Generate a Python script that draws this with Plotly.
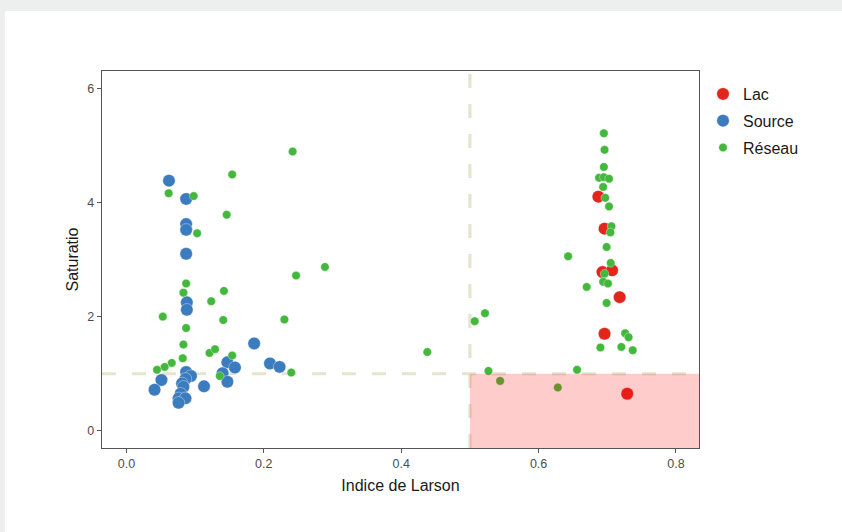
import plotly.graph_objects as go

# ---- data ----
lac_x = [0.687, 0.696, 0.693, 0.707, 0.718, 0.696, 0.729]
lac_y = [4.10, 3.54, 2.78, 2.81, 2.34, 1.70, 0.65]

source_x = [0.062, 0.087, 0.087, 0.087, 0.087, 0.088, 0.088, 0.186, 0.209, 0.223,
            0.147, 0.158, 0.140, 0.147, 0.113, 0.087, 0.094, 0.086, 0.081, 0.083,
            0.051, 0.041, 0.079, 0.076, 0.086, 0.076]
source_y = [4.38, 4.06, 3.62, 3.52, 3.10, 2.25, 2.12, 1.53, 1.18, 1.12,
            1.20, 1.11, 1.01, 0.86, 0.78, 1.03, 0.96, 0.91, 0.83, 0.77,
            0.89, 0.72, 0.65, 0.57, 0.57, 0.49]

reseau_x = [0.0615, 0.098, 0.154, 0.146, 0.103, 0.087, 0.083, 0.142, 0.1235, 0.053,
            0.141, 0.087, 0.083, 0.082, 0.121, 0.129, 0.154, 0.066, 0.0557, 0.0446,
            0.136, 0.242, 0.289, 0.247, 0.230, 0.240, 0.438,
            0.507, 0.522, 0.527, 0.544, 0.628, 0.656, 0.670, 0.643,
            0.695, 0.696, 0.695, 0.688, 0.695, 0.7025, 0.694, 0.697, 0.7025, 0.706,
            0.7045, 0.699, 0.705, 0.696, 0.694, 0.701, 0.699, 0.726, 0.731, 0.690,
            0.7205, 0.737]
reseau_y = [4.16, 4.11, 4.49, 3.785, 3.46, 2.58, 2.42, 2.45, 2.27, 2.00,
            1.94, 1.80, 1.51, 1.27, 1.365, 1.43, 1.32, 1.19, 1.12, 1.07,
            0.96, 4.89, 2.87, 2.72, 1.95, 1.02, 1.38,
            1.92, 2.06, 1.05, 0.875, 0.76, 1.07, 2.52, 3.056,
            5.21, 4.92, 4.62, 4.43, 4.44, 4.415, 4.27, 4.08, 3.93, 3.58,
            3.475, 3.22, 2.94, 2.75, 2.61, 2.58, 2.24, 1.71, 1.64, 1.46,
            1.47, 1.41]

x_ticks = [0.0, 0.2, 0.4, 0.6, 0.8]
y_ticks = [0, 2, 4, 6]
x_threshold = 0.5
y_threshold = 1.0

# ---- figure ----
FONT = "Liberation Sans, Arial, Helvetica, sans-serif"
L, R, T, B = 102, 143, 71, 84
W, H = 842, 532
PW, PH = W - L - R, H - T - B

def px_x(p):
    return (p - L) / PW

def px_y(p):
    return (H - B - p) / PH

fig = go.Figure()

series = [
    ("Lac", lac_x, lac_y, "#e2261c", 12.5),
    ("Source", source_x, source_y, "#3b7cbf", 12.5),
    ("Réseau", reseau_x, reseau_y, "#44b83d", 8.5),
]
for name, xs, ys, col, sz in series:
    fig.add_trace(go.Scatter(
        x=xs, y=ys, mode="markers", name=name, legendgroup=name,
        marker=dict(color=col, size=sz, line=dict(width=0.6, color="rgba(255,255,255,0.6)")),
        cliponaxis=True,
    ))

shapes = [
    # page background: white sheet on grey page
    dict(type="rect", xref="paper", yref="paper",
         x0=px_x(5), x1=px_x(W + 20), y0=px_y(H + 20), y1=px_y(11),
         fillcolor="white", line=dict(width=0), layer="below"),
    # dashed threshold lines
    dict(type="line", xref="x", yref="paper", x0=x_threshold, x1=x_threshold, y0=0, y1=1,
         line=dict(color="#e6e4cf", width=3.2, dash="14px,16px"), layer="below"),
    dict(type="line", xref="paper", yref="y", x0=0, x1=1, y0=y_threshold, y1=y_threshold,
         line=dict(color="#e6e4cf", width=3.2, dash="14px,16px"), layer="below"),
    # pink zone
    dict(type="rect", xref="x", yref="y", x0=x_threshold, x1=1.2, y0=-1, y1=y_threshold,
         fillcolor="rgba(255,0,0,0.2)", line=dict(width=0), layer="above"),
]
fig.update_layout(shapes=shapes)

axis_common = dict(
    showgrid=False, zeroline=False, showline=True, mirror=True,
    linecolor="#555555", linewidth=1.4,
    ticks="outside", ticklen=4, tickwidth=1.2, tickcolor="#555555",
    tickfont=dict(family=FONT, size=12.5, color="#4d4d4d"),
)
fig.update_xaxes(range=[-0.0355, 0.8335], tickvals=x_ticks,
                 ticktext=[f"{v:.1f}" for v in x_ticks],
                 title=dict(text="Indice de Larson", font=dict(family=FONT, size=16, color="#1a1a1a"), standoff=9),
                 **axis_common)
fig.update_yaxes(range=[-0.3, 6.3], tickvals=y_ticks,
                 ticktext=[str(v) for v in y_ticks],
                 title=dict(text="Saturatio", font=dict(family=FONT, size=16, color="#1a1a1a"), standoff=4),
                 **axis_common)

fig.update_layout(
    width=W, height=H,
    margin=dict(l=L, r=R, t=T, b=B, autoexpand=False),
    paper_bgcolor="#edefee", plot_bgcolor="white",
    font=dict(family=FONT, color="#1a1a1a"),
    showlegend=True,
    legend=dict(x=px_x(703), xanchor="left", y=px_y(77), yanchor="top",
                font=dict(family=FONT, size=16, color="#1a1a1a"),
                bgcolor="rgba(0,0,0,0)", traceorder="grouped", tracegroupgap=3,
                itemsizing="trace"),
)

fig.write_html(
    "out.html",
    config={"displayModeBar": False},
    post_script="document.body.style.margin='0';document.body.style.padding='0';"
                "document.body.style.overflow='hidden';",
)
